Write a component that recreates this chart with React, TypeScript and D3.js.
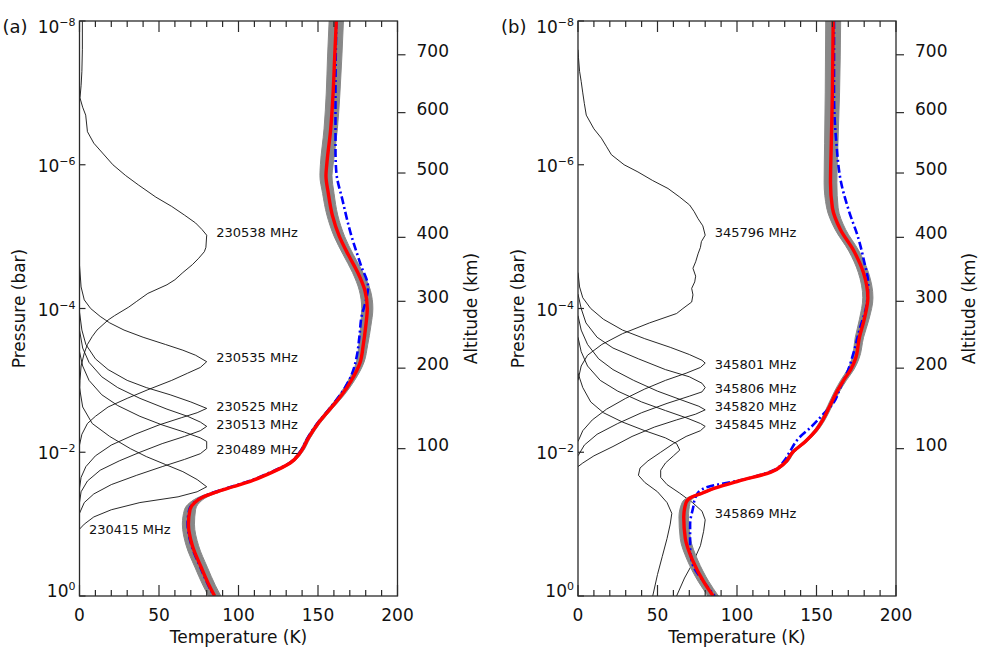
import React from 'react';
import * as d3 from 'd3';

const W = 981;
const H = 658;

// all pressure levels are log10(p / bar); temperatures in K
// contribution functions are scaled so their peak sits at 80 on the K axis

const xTicksMajor = [0, 50, 100, 150, 200];
const pressureExps = [-8, -6, -4, -2, 0];
const altKm = [100, 200, 300, 400, 500, 600, 700];
const altLogP = [-2.05, -3.17, -4.1, -4.99, -5.885, -6.725, -7.53];

// ---- panel (a)
const redA: [number, number][] = [
  [-8, 161.5], [-7.5, 160.5], [-7, 159.5], [-6.5, 158], [-6, 155.5], [-5.85, 155], [-5.6, 156.5],
  [-5.3, 159], [-5, 163.5], [-4.75, 169], [-4.5, 175], [-4.25, 179.5], [-4, 181], [-3.75, 180],
  [-3.5, 178.5], [-3.25, 176.5], [-3, 171], [-2.8, 165], [-2.6, 157.5], [-2.4, 150], [-2.2, 144],
  [-2, 139], [-1.85, 132.5], [-1.72, 121], [-1.61, 109], [-1.52, 96.5], [-1.45, 86.5], [-1.38, 78],
  [-1.3, 72.5], [-1.2, 69.5], [-1, 68.5], [-0.7, 71], [-0.4, 76.5], [-0.15, 81.5], [0, 85],
];
const grayErrA = [
  4.5, 4.5, 4.3, 4.2, 4, 3.8, 3.6, 3.4, 3.3, 3.2, 3.3, 3.5, 3.5, 3.2, 2.8, 2.4, 2, 1.6, 1.3, 1.2,
  1.2, 1.2, 1.2, 1.2, 1.2, 1.5, 2, 2.5, 3, 3.5, 3.8, 3.9, 3.9, 3.9, 3.9,
];
const blueA: [number, number][] = [
  [-8, 161.5], [-7, 161], [-6.2, 161], [-5.9, 161.5], [-5.5, 165.5], [-5.05, 170.5], [-4.6, 177],
  [-4.3, 181.5], [-4.1, 180], [-3.9, 177.5], [-3.6, 176], [-3.35, 174.5], [-3.1, 171.5], [-2.9, 167],
  [-2.6, 157], [-2.4, 149.5], [-2.2, 143.5], [-2, 138.5], [-1.85, 132], [-1.72, 120], [-1.61, 108],
  [-1.52, 95.5], [-1.45, 85.5], [-1.38, 77.5], [-1.3, 72], [-1.2, 69], [-1, 68], [-0.7, 70.5],
  [-0.4, 76], [-0.15, 81], [0, 84.5],
];
const cfA_230538: [number, number][] = [
  [-8, 1.8], [-7.6, 1.8], [-7.3, 1.5], [-7.1, 1], [-6.93, 0.3], [-6.8, 2], [-6.69, 3.9], [-6.46, 5],
  [-6.3, 9], [-6.15, 15], [-6, 21], [-5.85, 29], [-5.72, 37], [-5.55, 48], [-5.42, 58], [-5.3, 66],
  [-5.19, 73], [-5.1, 77], [-5.02, 80], [-4.85, 79.5], [-4.79, 78.5], [-4.7, 75], [-4.61, 71],
  [-4.5, 65], [-4.4, 60], [-4.33, 55], [-4.21, 43], [-4.1, 36], [-4.02, 31], [-3.9, 22], [-3.84, 18],
  [-3.7, 11], [-3.61, 8], [-3.5, 5], [-3.38, 3], [-3.2, 1], [-3, 0.3], [-2.8, 0],
];
const cfA_230535: [number, number][] = [
  [-4.6, 0], [-4.3, 1], [-4.12, 3], [-4, 7], [-3.89, 13], [-3.8, 19], [-3.7, 28], [-3.6, 40],
  [-3.5, 54], [-3.42, 65], [-3.35, 73], [-3.26, 80], [-3.18, 76], [-3.1, 68], [-3, 58], [-2.87, 43],
  [-2.75, 30], [-2.63, 18], [-2.5, 10], [-2.4, 5], [-2.25, 1.5], [-2.1, 0],
];
const cfA_230525: [number, number][] = [
  [-3.95, 0], [-3.7, 1.5], [-3.5, 4], [-3.3, 10], [-3.15, 18], [-3, 30], [-2.9, 42], [-2.8, 57],
  [-2.7, 70], [-2.61, 80], [-2.55, 74], [-2.48, 64], [-2.38, 50], [-2.25, 35], [-2.1, 20],
  [-1.95, 10], [-1.8, 4], [-1.65, 1], [-1.5, 0],
];
const cfA_230513: [number, number][] = [
  [-3.7, 0], [-3.45, 2], [-3.25, 6], [-3.05, 14], [-2.9, 24], [-2.75, 38], [-2.6, 55], [-2.5, 68],
  [-2.42, 76], [-2.36, 80], [-2.3, 76], [-2.22, 66], [-2.12, 52], [-2, 38], [-1.88, 25],
  [-1.75, 13], [-1.6, 5], [-1.45, 1], [-1.3, 0],
];
const cfA_230489: [number, number][] = [
  [-3.4, 0], [-3.2, 2], [-3, 6], [-2.8, 14], [-2.65, 24], [-2.5, 38], [-2.38, 52], [-2.28, 66],
  [-2.2, 76], [-2.15, 80], [-2.05, 80], [-1.98, 76], [-1.9, 66], [-1.8, 52], [-1.68, 36],
  [-1.55, 20], [-1.42, 9], [-1.3, 3], [-1.15, 0],
];
const cfA_230415: [number, number][] = [
  [-2.9, 0], [-2.63, 2], [-2.4, 8], [-2.22, 19], [-2.05, 32], [-1.94, 42], [-1.83, 54], [-1.73, 65],
  [-1.62, 74], [-1.52, 80], [-1.45, 74], [-1.38, 62], [-1.3, 38], [-1.2, 20], [-1.1, 9], [-1, 3],
  [-0.93, 0],
];
const cfLabelsA = ['230538', '230535', '230525', '230513', '230489', '230415'];
const cfLabelPosA: [number, number][] = [
  [86, -5.06], [86, -3.32], [86, -2.64], [86, -2.39], [86, -2.05], [6, -0.93],
];

// ---- panel (b)
const redB: [number, number][] = [
  [-8, 160.5], [-7, 160], [-6.3, 159.3], [-5.75, 158.8], [-5.4, 160], [-5.1, 165], [-4.8, 173.5],
  [-4.5, 179.5], [-4.15, 182.3], [-3.85, 180], [-3.6, 177], [-3.3, 174.5], [-3.15, 171.5], [-3, 167],
  [-2.85, 163], [-2.65, 158.5], [-2.45, 154], [-2.3, 149.5], [-2.15, 143], [-2, 135], [-1.85, 130],
  [-1.72, 121], [-1.6, 101], [-1.5, 86], [-1.43, 78], [-1.37, 71], [-1.3, 68], [-1.1, 66.5],
  [-0.8, 67.5], [-0.5, 72], [-0.2, 79], [0, 85],
];
const grayErrB = [
  4.7, 4.5, 4.2, 4, 3.6, 3.3, 3.2, 3.2, 3.2, 3, 2.6, 2.2, 2, 1.8, 1.6, 1.4, 1.3, 1.2, 1.2, 1.2, 1.2,
  1.2, 1.2, 1.2, 1.5, 2, 2.5, 3, 3.2, 3.3, 3.3, 3.3,
];
const blueB: [number, number][] = [
  [-8, 161], [-7, 161], [-6.3, 162.5], [-5.75, 165.5], [-5.35, 170.5], [-5, 176], [-4.65, 180],
  [-4.35, 182.5], [-4.05, 181.5], [-3.7, 177], [-3.4, 173.5], [-3.15, 170], [-2.9, 165], [-2.7, 161],
  [-2.5, 153], [-2.35, 146.5], [-2.2, 139], [-2, 133], [-1.89, 130], [-1.75, 123], [-1.61, 102],
  [-1.52, 82], [-1.45, 76], [-1.35, 73.5], [-1.24, 72.5], [-1, 70.5], [-0.7, 70.5], [-0.45, 72],
  [-0.2, 79], [0, 86],
];
const cfB_345796: [number, number][] = [
  [-7.6, 0], [-7.49, 0.3], [-7.3, 1], [-7.16, 2], [-7, 3], [-6.85, 4], [-6.69, 5.2], [-6.5, 10],
  [-6.37, 14.7], [-6.25, 18], [-6.14, 21], [-6, 29], [-5.9, 37.7], [-5.78, 47], [-5.67, 56.6],
  [-5.55, 64], [-5.44, 70.2], [-5.35, 73], [-5.25, 75.5], [-5.15, 78.5], [-5.02, 80], [-4.93, 77.6],
  [-4.85, 77], [-4.76, 75.5], [-4.65, 74], [-4.56, 72.3], [-4.45, 74], [-4.37, 73.4], [-4.28, 71.5],
  [-4.19, 72.3], [-4.09, 71.5], [-4, 66], [-3.93, 62], [-3.8, 45], [-3.65, 28], [-3.5, 15],
  [-3.35, 6], [-3.2, 2], [-3, 0],
];
const cfB_345801: [number, number][] = [
  [-4.5, 0], [-4.3, 1], [-4.15, 3], [-4, 8], [-3.85, 16], [-3.7, 28], [-3.58, 42], [-3.46, 58],
  [-3.36, 70], [-3.28, 78], [-3.24, 80], [-3.18, 77], [-3.1, 68], [-3, 55], [-2.88, 42], [-2.75, 30],
  [-2.6, 18], [-2.45, 9], [-2.3, 3], [-2.15, 0],
];
const cfB_345806: [number, number][] = [
  [-4.2, 0], [-4, 2], [-3.8, 5], [-3.6, 12], [-3.45, 22], [-3.3, 38], [-3.15, 55], [-3.05, 70],
  [-2.96, 78], [-2.9, 80], [-2.84, 78], [-2.78, 70], [-2.68, 56], [-2.55, 40], [-2.4, 25],
  [-2.25, 12], [-2.1, 4], [-1.95, 0],
];
const cfB_345820: [number, number][] = [
  [-3.9, 0], [-3.7, 2], [-3.5, 6], [-3.3, 13], [-3.15, 22], [-3, 35], [-2.85, 50], [-2.72, 66],
  [-2.64, 76], [-2.59, 80], [-2.53, 74], [-2.45, 62], [-2.35, 48], [-2.22, 34], [-2.08, 22],
  [-1.95, 10], [-1.85, 3], [-1.8, 0],
];
const cfB_345845: [number, number][] = [
  [-3.6, 0], [-3.4, 2], [-3.2, 6], [-3, 14], [-2.85, 25], [-2.7, 40], [-2.58, 55], [-2.48, 68],
  [-2.4, 77], [-2.36, 80], [-2.3, 77], [-2.22, 68], [-2.12, 60], [-2, 52], [-1.88, 44], [-1.78, 39],
  [-1.68, 38], [-1.58, 42], [-1.45, 50], [-1.3, 56], [-1.15, 59], [-1, 58], [-0.8, 56],
  [-0.55, 53], [-0.3, 50], [0, 47],
];
const cfB_345869: [number, number][] = [
  [-3.1, 0], [-2.9, 3], [-2.7, 8], [-2.55, 16], [-2.42, 28], [-2.3, 42], [-2.2, 55], [-2.12, 62],
  [-2.03, 64], [-1.95, 60], [-1.85, 55], [-1.75, 52], [-1.65, 52], [-1.55, 56], [-1.43, 64],
  [-1.3, 72], [-1.18, 78], [-1.06, 80], [-0.9, 79], [-0.7, 77], [-0.45, 72], [-0.25, 67], [0, 62],
];
const cfLabelsB = ['345796', '345801', '345806', '345820', '345845', '345869'];
const cfLabelPosB: [number, number][] = [
  [86, -5.06], [86, -3.23], [86, -2.89], [86, -2.64], [86, -2.39], [86, -1.15],
];

const plotTop = 21;
const plotBottom = 596;
const plotW = 318;
const font = '"DejaVu Sans", sans-serif';
const axisColor = '#2a2a2a';

const yScale = d3.scaleLog().domain([1e-8, 1]).range([plotTop, plotBottom]);
const yOf = (lp: number) => yScale(Math.pow(10, lp));

type PanelProps = {
  id: string;
  left: number;
  tag: string;
  red: [number, number][];
  grayErr: number[];
  blue: [number, number][];
  cfs: [number, number][][];
  labels: string[];
  labelPos: [number, number][];
};

function Panel({ id, left, tag, red, grayErr, blue, cfs, labels, labelPos }: PanelProps) {
  const x = d3.scaleLinear().domain([0, 200]).range([left, left + plotW]);
  const right = left + plotW;

  const profile = d3
    .line<[number, number]>()
    .x((d) => x(d[1]))
    .y((d) => yOf(d[0]))
    .curve(d3.curveMonotoneY);

  const cfLine = d3
    .line<[number, number]>()
    .x((d) => x(d[1]))
    .y((d) => yOf(d[0]));

  const band = d3
    .area<[number, number]>()
    .y((d) => yOf(d[0]))
    .x0((d, i) => x(d[1] - grayErr[i]))
    .x1((d, i) => x(d[1] + grayErr[i]))
    .curve(d3.curveMonotoneY);

  const minor = d3.range(0, 201, 10);

  return (
    <g>
      <defs>
        <clipPath id={`clip-${id}`}>
          <rect x={left} y={plotTop} width={plotW} height={plotBottom - plotTop} />
        </clipPath>
      </defs>

      <g clipPath={`url(#clip-${id})`}>
        {cfs.map((cf, i) => (
          <path key={i} d={cfLine(cf) || ''} fill="none" stroke="#111" strokeWidth={0.9} />
        ))}
        <path d={band(red) || ''} fill="#888" stroke="#888" strokeWidth={1} />
        <path
          d={profile(blue) || ''}
          fill="none"
          stroke="#0000ff"
          strokeWidth={2.6}
          strokeDasharray="8 3 2 3"
        />
        <path d={profile(red) || ''} fill="none" stroke="#ff0000" strokeWidth={3.4} />
      </g>

      {labels.map((lab, i) => (
        <text
          key={lab}
          x={x(labelPos[i][0])}
          y={yOf(labelPos[i][1]) + 5}
          fontSize={13}
          fontFamily={font}
          fill="#111"
        >
          {lab} MHz
        </text>
      ))}

      {/* frame */}
      <rect
        x={left}
        y={plotTop}
        width={plotW}
        height={plotBottom - plotTop}
        fill="none"
        stroke={axisColor}
        strokeWidth={1.3}
      />

      {/* temperature ticks, top and bottom */}
      {minor.map((t) => {
        const len = t % 50 === 0 ? 11 : 6;
        return (
          <g key={t} stroke={axisColor} strokeWidth={1.2}>
            <line x1={x(t)} x2={x(t)} y1={plotTop} y2={plotTop + len} />
            <line x1={x(t)} x2={x(t)} y1={plotBottom} y2={plotBottom - len} />
          </g>
        );
      })}
      {xTicksMajor.map((t) => (
        <text
          key={t}
          x={x(t)}
          y={621}
          textAnchor="middle"
          fontSize={17}
          fontFamily={font}
          fill="#111"
        >
          {t}
        </text>
      ))}
      <text
        x={(left + right) / 2}
        y={643}
        textAnchor="middle"
        fontSize={17}
        fontFamily={font}
        fill="#111"
      >
        Temperature (K)
      </text>

      {/* pressure axis */}
      {pressureExps.map((e) => {
        const yy = yOf(e);
        const dy = e === -8 ? 12 : e === 0 ? 1 : 7;
        return (
          <g key={e}>
            <line x1={left} x2={left + 6} y1={yy} y2={yy} stroke={axisColor} strokeWidth={1.2} />
            <text
              x={left - 4}
              y={yy + dy}
              textAnchor="end"
              fontSize={17}
              fontFamily={font}
              fill="#111"
            >
              10
              <tspan dy={-7} fontSize={11}>
                {e === 0 ? '0' : `\u2212${-e}`}
              </tspan>
            </text>
          </g>
        );
      })}
      <text
        transform={`translate(${left - 54.5},${(plotTop + plotBottom) / 2}) rotate(-90)`}
        textAnchor="middle"
        fontSize={17}
        fontFamily={font}
        fill="#111"
      >
        Pressure (bar)
      </text>

      {/* altitude axis */}
      {altKm.map((a, i) => {
        const yy = yOf(altLogP[i]);
        return (
          <g key={a}>
            <line x1={right} x2={right + 8} y1={yy} y2={yy} stroke={axisColor} strokeWidth={1.2} />
            <text x={right + 19} y={yy + 2} fontSize={17} fontFamily={font} fill="#111">
              {a}
            </text>
          </g>
        );
      })}
      <text
        transform={`translate(${right + 79},${(plotTop + plotBottom) / 2}) rotate(-90)`}
        textAnchor="middle"
        fontSize={17}
        fontFamily={font}
        fill="#111"
      >
        Altitude (km)
      </text>

      <text x={left - 77} y={33} fontSize={18} fontFamily={font} fill="#111">
        {tag}
      </text>
    </g>
  );
}

export default function App() {
  return (
    <svg
      width={W}
      height={H}
      viewBox={`0 0 ${W} ${H}`}
      style={{ position: 'absolute', left: 0, top: 0, background: '#fff' }}
    >
      <rect width={W} height={H} fill="#fff" />
      <Panel
        id="a"
        left={79.5}
        tag="(a)"
        red={redA}
        grayErr={grayErrA}
        blue={blueA}
        cfs={[cfA_230538, cfA_230535, cfA_230525, cfA_230513, cfA_230489, cfA_230415]}
        labels={cfLabelsA}
        labelPos={cfLabelPosA}
      />
      <Panel
        id="b"
        left={578}
        tag="(b)"
        red={redB}
        grayErr={grayErrB}
        blue={blueB}
        cfs={[cfB_345796, cfB_345801, cfB_345806, cfB_345820, cfB_345845, cfB_345869]}
        labels={cfLabelsB}
        labelPos={cfLabelPosB}
      />
    </svg>
  );
}
